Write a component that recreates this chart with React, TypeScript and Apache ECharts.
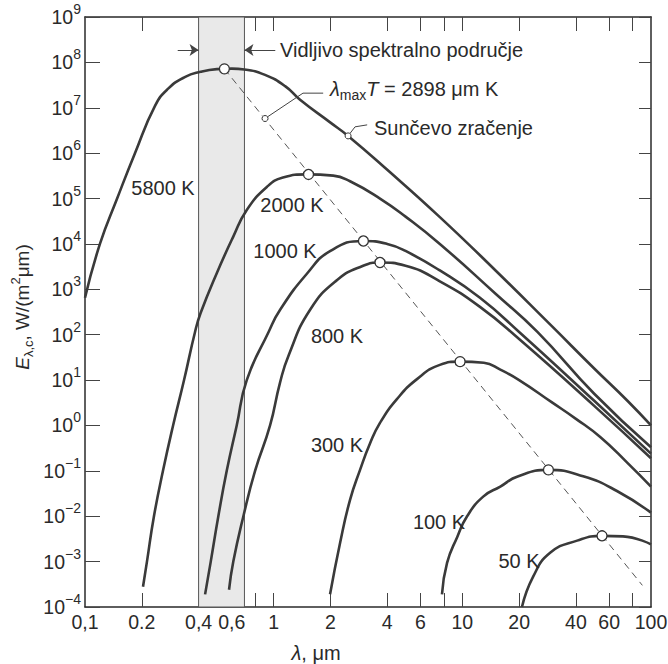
import React, { useEffect, useRef } from 'react';
import * as echarts from 'echarts';

const FONT = '"Liberation Sans", Arial, Helvetica, sans-serif';
const INK = '#2a2a2a';
const CURVE = '#3a3a3a';

// Axis ticks / labels
const xTickValues = [0.1, 0.2, 0.4, 0.6, 1, 2, 4, 6, 10, 20, 40, 60, 100];
const xTickLabels = ['0,1', '0.2', '0,4', '0,6', '1', '2', '4', '6', '10', '20', '40', '60', '100'];
const xMinorTicks = [0.2, 0.8, 1, 2, 4, 6, 8, 10, 20, 40, 60, 80];
const yTickValues = [1e-4, 1e-3, 1e-2, 1e-1, 1, 1e1, 1e2, 1e3, 1e4, 1e5, 1e6, 1e7, 1e8, 1e9];

// Visible band (µm)
const visibleBand = [0.4, 0.7];

// Curves: wavelength (µm) and E (W/(m² µm))
const lambda5800 = [0.1, 0.12, 0.148, 0.184, 0.235, 0.275, 0.34, 0.41, 0.5, 0.6, 0.7, 0.9, 1.15, 1.38, 2, 2.48, 4, 7.6, 15, 30, 50, 75, 100];
const e5800 = [650, 1.0e4, 1.0e5, 1.0e6, 1.1e7, 2.6e7, 4.8e7, 6.2e7, 7.1e7, 7.3e7, 7.0e7, 5.3e7, 3.0e7, 1.5e7, 4.7e6, 2.4e6, 4.3e5, 3.9e4, 2.6e3, 150, 18, 3.5, 1.0];

const lambda2000 = [0.203, 0.213, 0.232, 0.259, 0.293, 0.335, 0.383, 0.41, 0.5, 0.61, 0.72, 0.92, 1.12, 1.5, 2.07, 2.54, 3.66, 5, 7.6, 15, 25, 50, 100];
const e2000 = [2.8e-4, 1e-3, 1e-2, 0.1, 1, 10, 115, 300, 2.3e3, 1.43e4, 5.6e4, 1.8e5, 2.9e5, 3.4e5, 3.2e5, 2.4e5, 1.0e5, 4.0e4, 1.0e4, 800, 115, 5, 0.33];

const lambda1000 = [0.433, 0.464, 0.509, 0.564, 0.637, 0.72, 0.94, 1.08, 1.5, 2.0, 2.98, 4, 5, 7.6, 12.4, 20, 50, 100];
const e1000 = [1.9e-4, 1e-3, 1e-2, 0.1, 1, 10, 115, 350, 2.2e3, 7.0e3, 1.16e4, 1.0e4, 7.0e3, 2.6e3, 650, 115, 3.5, 0.24];

const lambda800 = [0.58, 0.611, 0.691, 0.797, 0.957, 1.08, 1.2, 1.557, 2.17, 2.98, 3.66, 5, 7.6, 12.4, 20, 50, 100];
const e800 = [2.4e-4, 1e-3, 1e-2, 0.1, 1.0, 8.7, 35, 350, 1.6e3, 3.3e3, 3.9e3, 3.3e3, 1.5e3, 410, 80, 2.7, 0.19];

const lambda300 = [1.99, 2.25, 2.54, 2.87, 3.24, 3.66, 4.5, 5.75, 7.6, 9.7, 13, 15.9, 20, 29.6, 40, 54, 75, 100];
const e300 = [1.9e-4, 2.6e-3, 0.023, 0.105, 0.4, 1.14, 3.8, 10.5, 21.6, 25.5, 24, 17, 10, 3.3, 1.4, 0.55, 0.15, 0.045];

const lambda100 = [7.8, 8.3, 9.4, 10.6, 12.9, 15.9, 19.5, 28.6, 43.7, 66, 100];
const e100 = [1.9e-4, 9.4e-4, 3.5e-3, 1.0e-2, 0.027, 0.045, 0.074, 0.105, 0.076, 0.036, 0.012];

const lambda50 = [20.7, 23.7, 29.2, 40.6, 55, 71, 100];
const e50 = [1.0e-4, 4.6e-4, 1.56e-3, 2.9e-3, 3.7e-3, 3.6e-3, 2.4e-3];

// Wien maxima (circles) and the λmax·T line
const wienLambda = [0.548, 1.53, 2.99, 3.66, 9.73, 28.6, 55];
const wienE = [7.2e7, 3.4e5, 1.16e4, 3.9e3, 25.5, 0.105, 3.7e-3];
const wienLineLambda = [0.548, 90];
const wienLineE = [7.2e7, 3.0e-4];

// Annotation leaders
const leaderWienLambda = [0.9, 1.43, 1.83];
const leaderWienE = [5.8e6, 2.1e7, 2.1e7];
const leaderSunLambda = [2.48, 2.7, 3.13];
const leaderSunE = [2.4e6, 3.8e6, 4.2e6];
const arrowLevel = 1.87e8;

const pairs = (xs: number[], ys: number[]) => xs.map((x, i) => [x, ys[i]]);

const curves = [
  { name: '5800 K', lambda: lambda5800, e: e5800 },
  { name: '2000 K', lambda: lambda2000, e: e2000 },
  { name: '1000 K', lambda: lambda1000, e: e1000 },
  { name: '800 K', lambda: lambda800, e: e800 },
  { name: '300 K', lambda: lambda300, e: e300 },
  { name: '100 K', lambda: lambda100, e: e100 },
  { name: '50 K', lambda: lambda50, e: e50 },
];

const curveLabels = [
  { text: '5800 K', x: 163, y: 188 },
  { text: '2000 K', x: 292, y: 205 },
  { text: '1000 K', x: 285, y: 251 },
  { text: '800 K', x: 337, y: 336 },
  { text: '300 K', x: 337, y: 445 },
  { text: '100 K', x: 439, y: 522 },
  { text: '50 K', x: 519, y: 561 },
];

function xLabel(v: number) {
  for (let i = 0; i < xTickValues.length; i++) {
    if (Math.abs(Math.log10(v) - Math.log10(xTickValues[i])) < 1e-6) return xTickLabels[i];
  }
  return '';
}

function yLabel(v: number) {
  const exp = Math.round(Math.log10(v));
  const s = exp < 0 ? '\u2212' + -exp : String(exp);
  return '{b|10}{s|' + s + '}';
}

function txt(text: string, x: number, y: number, align: string, extra: any = {}) {
  return {
    type: 'text',
    x,
    y,
    silent: true,
    z: 20,
    style: {
      text,
      fill: INK,
      fontSize: 20,
      fontFamily: FONT,
      align,
      textAlign: align,
      verticalAlign: 'middle',
      textVerticalAlign: 'middle',
      ...extra,
    },
  };
}

const richBase = (size: number, lh = 26) => ({ fontSize: size, lineHeight: lh, fill: INK, color: INK, fontFamily: FONT });

function buildOption(): any {
  const axisLine = { show: true, lineStyle: { color: INK, width: 1.5 } };
  const xTick = { show: true, inside: true, length: 14, customValues: xMinorTicks, lineStyle: { color: '#444', width: 1 } };
  const yTickL = { show: true, inside: true, length: 15, customValues: yTickValues, lineStyle: { color: '#444', width: 1 } };
  const yTickR = { show: true, inside: true, length: 12, customValues: yTickValues, lineStyle: { color: '#444', width: 1 } };

  const series: any[] = [];

  series.push({
    type: 'line',
    data: [],
    silent: true,
    z: 1,
    markArea: {
      silent: true,
      itemStyle: { color: '#e9e9e9', borderColor: '#555', borderWidth: 1 },
      data: [[{ xAxis: visibleBand[0] }, { xAxis: visibleBand[1] }]],
    },
    markLine: {
      silent: true,
      symbol: ['none', 'arrow'],
      symbolSize: 9,
      label: { show: false },
      lineStyle: { color: '#444', width: 1, type: 'solid' },
      data: [
        [{ coord: [0.31, arrowLevel] }, { coord: [visibleBand[0], arrowLevel] }],
        [{ coord: [1.02, arrowLevel] }, { coord: [visibleBand[1], arrowLevel] }],
      ],
    },
  });

  series.push({
    type: 'line',
    data: pairs(wienLineLambda, wienLineE),
    symbol: 'none',
    silent: true,
    z: 2,
    lineStyle: { color: '#555', width: 1, type: [7, 5] },
  });

  curves.forEach((c) => {
    series.push({
      name: c.name,
      type: 'line',
      data: pairs(c.lambda, c.e),
      symbol: 'none',
      showSymbol: false,
      smooth: 0.5,
      silent: true,
      z: 3,
      lineStyle: { color: CURVE, width: 2.6 },
    });
  });

  [pairs(leaderWienLambda, leaderWienE), pairs(leaderSunLambda, leaderSunE)].forEach((d) => {
    series.push({
      type: 'line',
      data: d,
      symbol: 'none',
      silent: true,
      z: 4,
      lineStyle: { color: '#444', width: 1 },
    });
  });

  series.push({
    type: 'scatter',
    data: pairs(wienLambda, wienE),
    symbol: 'circle',
    symbolSize: 10,
    silent: true,
    z: 6,
    itemStyle: { color: '#fff', borderColor: '#333', borderWidth: 1.3, opacity: 1 },
  });

  series.push({
    type: 'scatter',
    data: [
      [leaderWienLambda[0], leaderWienE[0]],
      [leaderSunLambda[0], leaderSunE[0]],
    ],
    symbol: 'circle',
    symbolSize: 6,
    silent: true,
    z: 6,
    itemStyle: { color: '#fff', borderColor: '#333', borderWidth: 1, opacity: 1 },
  });

  const graphic: any[] = [];
  curveLabels.forEach((l) => graphic.push(txt(l.text, l.x, l.y, 'center')));
  graphic.push(txt('Vidljivo spektralno područje', 280, 50, 'left'));
  graphic.push(txt('Sunčevo zračenje', 374, 128, 'left'));
  graphic.push(
    txt('{l|λ}{sub|max}{t|T}{n| = 2898 μm K}', 330, 89, 'left', {
      rich: {
        l: { ...richBase(20), fontStyle: 'italic' },
        sub: { fontSize: 14, lineHeight: 14, verticalAlign: 'bottom', fill: INK, color: INK, fontFamily: FONT },
        t: { ...richBase(20), fontStyle: 'italic' },
        n: richBase(20),
      },
    })
  );
  graphic.push(
    txt('{l|λ}{n|, μm}', 316, 653, 'center', {
      rich: {
        l: { ...richBase(20, 20), fontStyle: 'italic' },
        n: richBase(20, 20),
      },
    })
  );
  graphic.push({
    ...txt('{e|E}{sub|λ,c}{n|, W/(m}{sup|2}{n|μm)}', 22, 307, 'center', {
      rich: {
        e: { ...richBase(19), fontStyle: 'italic' },
        sub: { fontSize: 13, lineHeight: 13, verticalAlign: 'bottom', fill: INK, color: INK, fontFamily: FONT },
        n: richBase(19),
        sup: { fontSize: 13, lineHeight: 13, verticalAlign: 'top', fill: INK, color: INK, fontFamily: FONT },
      },
    }),
    rotation: Math.PI / 2,
  });

  return {
    animation: false,
    backgroundColor: '#ffffff',
    textStyle: { fontFamily: FONT, color: INK },
    grid: { left: 85, right: 17, top: 17, bottom: 57, containLabel: false, outerBoundsMode: 'none', show: false },
    xAxis: [
      {
        type: 'log',
        logBase: 10,
        min: 0.1,
        max: 100,
        position: 'bottom',
        axisLine,
        axisTick: xTick,
        splitLine: { show: false },
        minorTick: { show: false },
        axisLabel: {
          show: true,
          customValues: xTickValues,
          formatter: (v: number) => xLabel(v),
          fontSize: 19.5,
          color: INK,
          fontFamily: FONT,
          margin: 5,
          hideOverlap: false,
        },
      },
      {
        type: 'log',
        logBase: 10,
        min: 0.1,
        max: 100,
        position: 'top',
        axisLine,
        axisTick: xTick,
        splitLine: { show: false },
        axisLabel: { show: false },
      },
    ],
    yAxis: [
      {
        type: 'log',
        logBase: 10,
        min: 1e-4,
        max: 1e9,
        position: 'left',
        axisLine,
        axisTick: yTickL,
        splitLine: { show: false },
        minorTick: { show: false },
        axisLabel: {
          show: true,
          customValues: yTickValues,
          formatter: (v: number) => yLabel(v),
          margin: 4,
          hideOverlap: false,
          rich: {
            b: { fontSize: 19.5, lineHeight: 30, color: INK, fontFamily: FONT },
            s: { fontSize: 14, lineHeight: 14, verticalAlign: 'top', color: INK, fontFamily: FONT },
          },
        },
      },
      {
        type: 'log',
        logBase: 10,
        min: 1e-4,
        max: 1e9,
        position: 'right',
        axisLine,
        axisTick: yTickR,
        splitLine: { show: false },
        axisLabel: { show: false },
      },
    ],
    series,
    graphic,
  };
}

export default function App() {
  const ref = useRef<HTMLDivElement>(null);
  useEffect(() => {
    document.body.style.margin = '0';
    const chart = echarts.init(ref.current as HTMLDivElement, null, { renderer: 'svg' });
    chart.setOption(buildOption());
    return () => {
      chart.dispose();
    };
  }, []);
  return <div ref={ref} style={{ width: 668, height: 664 }} />;
}
